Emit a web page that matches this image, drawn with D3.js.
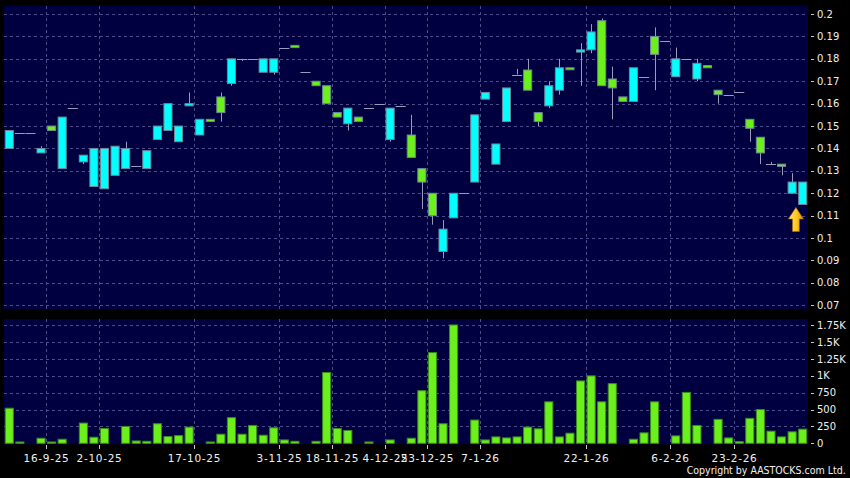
<!DOCTYPE html>
<html lang="en">
<head>
  <meta charset="utf-8">
  <title>Candlestick chart</title>
  <style>
    body { margin: 0; background: #000; }
    svg { display: block; font-family: "DejaVu Sans", sans-serif; }
  </style>
</head>
<body>
  <script src="https://d3js.org/d3.v7.min.js"></script>
  <svg></svg>
  <script>

// Daily prices (one entry per candle, oldest first)
var opens  = [0.140,0.147,0.147,0.138,0.150,0.131,0.158,0.134,0.123,0.122,
              0.128,0.131,0.132,0.131,0.144,0.148,0.143,0.159,0.146,0.153,
              0.163,0.169,0.180,0.180,0.174,0.174,0.185,0.186,0.174,0.170,
              0.168,0.156,0.151,0.154,0.158,0.160,0.144,0.159,0.146,0.131,
              0.120,0.094,0.109,0.120,0.125,0.162,0.133,0.152,0.173,0.175,
              0.156,0.159,0.166,0.176,0.183,0.184,0.197,0.171,0.163,0.161,
              0.172,0.190,0.188,0.172,0.180,0.171,0.177,0.166,0.164,0.165,
              0.153,0.145,0.133,0.133,0.120,0.115];
var highs  = [0.148,0.147,0.147,0.141,0.150,0.154,0.158,0.137,0.140,0.140,
              0.141,0.143,0.132,0.139,0.150,0.160,0.150,0.165,0.153,0.153,
              0.165,0.180,0.180,0.180,0.180,0.180,0.185,0.186,0.174,0.170,
              0.168,0.156,0.158,0.154,0.158,0.160,0.158,0.159,0.155,0.131,
              0.120,0.108,0.120,0.120,0.155,0.165,0.142,0.167,0.1755,0.180,
              0.156,0.170,0.180,0.176,0.187,0.1955,0.198,0.1765,0.163,0.176,
              0.172,0.194,0.188,0.185,0.180,0.180,0.177,0.166,0.164,0.165,
              0.153,0.145,0.134,0.133,0.129,0.125];
var lows   = [0.140,0.147,0.147,0.138,0.148,0.131,0.158,0.133,0.123,0.122,
              0.128,0.131,0.132,0.131,0.144,0.148,0.143,0.159,0.146,0.152,
              0.152,0.168,0.179,0.180,0.174,0.173,0.185,0.185,0.174,0.168,
              0.160,0.154,0.148,0.152,0.158,0.160,0.143,0.159,0.136,0.113,
              0.106,0.091,0.109,0.120,0.125,0.162,0.133,0.152,0.173,0.166,
              0.150,0.158,0.164,0.1755,0.168,0.1825,0.168,0.153,0.161,0.161,
              0.172,0.166,0.188,0.172,0.180,0.170,0.176,0.160,0.164,0.165,
              0.143,0.133,0.133,0.128,0.120,0.115];
var closes = [0.148,0.147,0.147,0.140,0.148,0.154,0.158,0.137,0.140,0.140,
              0.141,0.140,0.132,0.139,0.150,0.160,0.150,0.160,0.153,0.152,
              0.156,0.180,0.180,0.180,0.180,0.180,0.185,0.185,0.174,0.168,
              0.160,0.154,0.158,0.152,0.158,0.160,0.158,0.159,0.136,0.125,
              0.110,0.104,0.120,0.120,0.155,0.165,0.142,0.167,0.173,0.166,
              0.152,0.168,0.176,0.1755,0.184,0.192,0.168,0.167,0.161,0.176,
              0.172,0.182,0.188,0.180,0.180,0.178,0.176,0.164,0.164,0.165,
              0.149,0.138,0.133,0.132,0.125,0.125];
var volumes = [520,20,0,75,20,60,0,300,90,220,
               0,250,35,30,290,100,115,240,0,20,
               135,380,135,265,120,230,50,30,0,30,
               1050,220,190,0,20,0,50,0,75,780,
               1345,290,1755,0,345,50,95,80,95,240,
               215,615,95,150,925,1000,615,885,0,60,
               155,615,0,110,755,265,0,355,80,25,
               370,500,180,95,170,210];

// Date labels and the candle they start at
var dateLabels = ['16-9-25','2-10-25','17-10-25','3-11-25','18-11-25','4-12-25',
                  '23-12-25','7-1-26','22-1-26','6-2-26','23-2-26'];
var dateIndex  = [4, 9, 18, 26, 31, 36, 40, 45, 55, 63, 69];

// Right axis ticks
var priceTicks  = [0.07,0.08,0.09,0.1,0.11,0.12,0.13,0.14,0.15,0.16,0.17,0.18,0.19,0.2];
var volumeTicks = [0,250,500,750,1000,1250,1500,1750];
var volumeLabels = ['0','250','500','750','1K','1.25K','1.5K','1.75K'];

var width = 850, height = 478;
var plot = {left: 4, right: 808};
var pricePanel  = {top: 5.5, bottom: 309};
var volumePanel = {top: 319, bottom: 444.3};

var upColor = '#00ffff', downColor = '#6cf01c', flatColor = '#9a9abb';
var gridColor = '#4c4c88', panelColor = '#000040';

var n = closes.length;

var svg = d3.select('svg')
            .attr('width', width)
            .attr('height', height);

svg.append('rect')
   .attr('width', width).attr('height', height)
   .attr('fill', '#000');

// Scales
var xScale = d3.scaleBand()
               .domain(d3.range(n))
               .range([plot.left, plot.right])
               .paddingInner(0.14)
               .paddingOuter(0.07);
// slot edges, used for the date grid
var xEdge = d3.scaleLinear().domain([0, n]).range([plot.left, plot.right]);

var yPrice = d3.scaleLinear().domain([0.07, 0.2]).range([305.3, 14]);
var yVol   = d3.scaleLinear().domain([0, 1750]).range([443.3, 325.3]);

// Panels
[pricePanel, volumePanel].forEach(function(p) {
  svg.append('rect')
     .attr('x', plot.left)
     .attr('y', p.top)
     .attr('width', plot.right - plot.left)
     .attr('height', p.bottom - p.top)
     .attr('fill', panelColor);
});

// Horizontal grid
var grid = svg.append('g')
              .attr('stroke', gridColor)
              .attr('stroke-dasharray', '3,3')
              .attr('shape-rendering', 'crispEdges');

grid.selectAll('.hp')
    .data(priceTicks)
    .enter().append('line')
    .attr('x1', plot.left).attr('x2', plot.right)
    .attr('y1', function(d) { return Math.round(yPrice(d)) + 0.5; })
    .attr('y2', function(d) { return Math.round(yPrice(d)) + 0.5; });

grid.selectAll('.hv')
    .data(volumeTicks.slice(1))
    .enter().append('line')
    .attr('x1', plot.left).attr('x2', plot.right)
    .attr('y1', function(d) { return Math.round(yVol(d)) + 0.5; })
    .attr('y2', function(d) { return Math.round(yVol(d)) + 0.5; });

// Vertical grid on both panels
[pricePanel, volumePanel].forEach(function(p) {
  grid.selectAll(null)
      .data(dateIndex)
      .enter().append('line')
      .attr('x1', function(d) { return Math.round(xEdge(d)) + 0.5; })
      .attr('x2', function(d) { return Math.round(xEdge(d)) + 0.5; })
      .attr('y1', p.top).attr('y2', p.bottom);
});

// Candles
var candles = d3.range(n).map(function(i) {
  return {i: i, o: opens[i], h: highs[i], l: lows[i], c: closes[i], v: volumes[i]};
});
var bw = xScale.bandwidth();
var cx = function(d) { return xScale(d.i) + bw / 2; };

var cg = svg.append('g');

// wicks
cg.selectAll('.wick')
  .data(candles.filter(function(d) { return d.h > Math.max(d.o, d.c) || d.l < Math.min(d.o, d.c); }))
  .enter().append('line')
  .attr('x1', function(d) { return Math.round(cx(d)) + 0.5; })
  .attr('x2', function(d) { return Math.round(cx(d)) + 0.5; })
  .attr('y1', function(d) { return yPrice(d.h); })
  .attr('y2', function(d) { return yPrice(d.l); })
  .attr('stroke', flatColor)
  .attr('stroke-width', 1);

// flat days are a plain dash
cg.selectAll('.flat')
  .data(candles.filter(function(d) { return d.o === d.c; }))
  .enter().append('line')
  .attr('x1', function(d) { return xScale(d.i) - 0.5; })
  .attr('x2', function(d) { return xScale(d.i) + bw + 0.5; })
  .attr('y1', function(d) { return Math.round(yPrice(d.c)) + 0.5; })
  .attr('y2', function(d) { return Math.round(yPrice(d.c)) + 0.5; })
  .attr('stroke', flatColor)
  .attr('stroke-width', 1);

cg.selectAll('.body')
  .data(candles.filter(function(d) { return d.o !== d.c; }))
  .enter().append('rect')
  .attr('x', function(d) { return xScale(d.i) + 0.5; })
  .attr('y', function(d) { return yPrice(Math.max(d.o, d.c)); })
  .attr('width', bw - 1)
  .attr('height', function(d) { return Math.max(2, yPrice(Math.min(d.o, d.c)) - yPrice(Math.max(d.o, d.c))); })
  .attr('fill', function(d) { return d.c > d.o ? upColor : downColor; })
  .attr('stroke', '#6f8796')
  .attr('stroke-width', 1);

// Volume bars
svg.append('g')
   .selectAll('rect')
   .data(candles.filter(function(d) { return d.v > 0; }))
   .enter().append('rect')
   .attr('x', function(d) { return xScale(d.i) + 0.5; })
   .attr('y', function(d) { return yVol(d.v); })
   .attr('width', bw - 1)
   .attr('height', function(d) { return yVol(0) - yVol(d.v); })
   .attr('fill', downColor)
   .attr('stroke', '#3c8a1e')
   .attr('stroke-width', 1);

// Arrow under the last candle
var last = candles[n - 1];
var ax = xEdge(n - 1) - 1.5, ay = yPrice(last.l) + 3;
var defs = svg.append('defs');
var grad = defs.append('linearGradient').attr('id', 'gold');
grad.append('stop').attr('offset', '0%').attr('stop-color', '#ffe27a');
grad.append('stop').attr('offset', '55%').attr('stop-color', '#ffc81e');
grad.append('stop').attr('offset', '100%').attr('stop-color', '#d88c00');
svg.append('path')
   .attr('d', 'M' + ax + ',' + ay +
              'L' + (ax + 7.5) + ',' + (ay + 11.5) +
              'L' + (ax + 3.4) + ',' + (ay + 11.5) +
              'L' + (ax + 3.4) + ',' + (ay + 24) +
              'L' + (ax - 3.4) + ',' + (ay + 24) +
              'L' + (ax - 3.4) + ',' + (ay + 11.5) +
              'L' + (ax - 7.5) + ',' + (ay + 11.5) + 'Z')
   .attr('fill', 'url(#gold)')
   .attr('stroke', '#b07000')
   .attr('stroke-width', 0.6);

// Right axes
var axisText = svg.append('g')
                  .attr('fill', '#f0f0f0')
                  .attr('font-size', '10px');

function rightAxis(ticks, scale, fmt) {
  ticks.forEach(function(t, k) {
    var y = scale(t);
    svg.append('line')
       .attr('x1', 811).attr('x2', 814)
       .attr('y1', Math.round(y) + 0.5).attr('y2', Math.round(y) + 0.5)
       .attr('stroke', '#c8c8c8');
    axisText.append('text')
            .attr('x', 817)
            .attr('y', y)
            .attr('dy', '0.36em')
            .text(fmt(t, k));
  });
}
rightAxis(priceTicks, yPrice, function(t) { return String(+t.toFixed(2)); });
rightAxis(volumeTicks, yVol, function(t, k) { return volumeLabels[k]; });

// Date axis
dateIndex.forEach(function(d, k) {
  var x = Math.round(xEdge(d)) + 0.5;
  svg.append('line')
     .attr('x1', x).attr('x2', x)
     .attr('y1', 445).attr('y2', 449)
     .attr('stroke', '#c8c8c8');
  axisText.append('text')
          .attr('x', x)
          .attr('y', 461.5)
          .attr('text-anchor', 'middle')
          .attr('font-size', '10.5px')
          .attr('letter-spacing', '0.7px')
          .text(dateLabels[k]);
});

// Copyright
svg.append('text')
   .attr('x', 845.7)
   .attr('y', 474.3)
   .attr('text-anchor', 'end')
   .attr('fill', '#f0f0f0')
   .attr('font-size', '10.5px')
   .attr('textLength', 159)
   .attr('lengthAdjust', 'spacingAndGlyphs')
   .text('Copyright by AASTOCKS.com Ltd.');

  </script>
</body>
</html>
